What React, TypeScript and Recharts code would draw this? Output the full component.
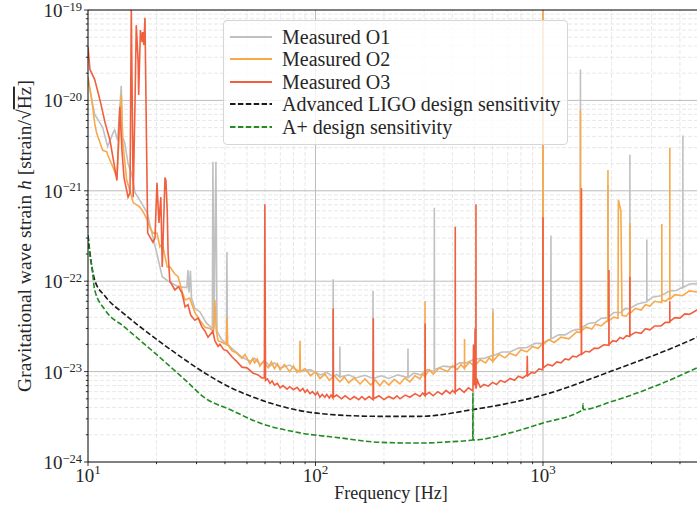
import React from "react";
import { LineChart, Line, XAxis, YAxis, ReferenceLine, Legend } from "recharts";

// [frequency Hz, strain 1/sqrt(Hz)]
const O1: [number, number][] = [
  [10, 1.7e-20], [10.4, 1.0e-20], [10.7, 7.0e-21], [11.3, 5.6e-21], [11.6, 5.0e-21], [12.2, 3.1e-21],
  [12.9, 4.4e-21], [13.1, 4.7e-21], [13.5, 3.6e-21], [14.0, 1.45e-20], [14.2, 3.9e-21], [14.5, 3.4e-21],
  [15.0, 2.0e-21], [15.6, 1.5e-21], [16.1, 9.5e-22], [16.9, 7.9e-22], [18.2, 5.7e-22], [19.1, 3.4e-22],
  [20.1, 2.0e-22], [21.2, 1.12e-22], [22.5, 1.0e-22], [24.9, 8.7e-23], [27.2, 8.5e-23], [27.5, 1.33e-22],
  [27.8, 7.5e-23], [28.2, 1.3e-22], [28.5, 6.5e-23], [29.5, 5.0e-23], [31.0, 4.6e-23], [33.0, 3.5e-23],
  [35.2, 3.0e-23], [35.4, 2.1e-21], [35.8, 3.0e-23], [36.5, 2.1e-21], [36.9, 2.8e-23], [38.5, 2.3e-23],
  [40.6, 2.0e-23], [40.8, 2.1e-22], [41.0, 2.0e-23], [43, 1.8e-23], [47.5, 1.45e-23], [51.5, 1.3e-23],
  [54, 1.4e-23], [57, 1.2e-23], [60, 1.3e-23], [63, 1.15e-23], [66, 1.25e-23], [70, 1.1e-23],
  [77, 1.18e-23], [85, 1.0e-23], [95, 1.05e-23], [105, 9.2e-24], [112, 9.8e-24], [119.3, 8.8e-24],
  [119.6, 1.05e-22], [119.9, 8.8e-24], [124, 9.3e-24], [127.7, 8.7e-24], [128, 1.9e-23], [128.3, 8.7e-24],
  [140, 9.2e-24], [150, 8.5e-24], [165, 9.1e-24], [178.7, 8.4e-24], [179, 7.8e-23], [179.3, 8.4e-24],
  [195, 9.0e-24], [210, 8.4e-24], [230, 9.2e-24], [254.5, 8.6e-24], [255, 1.8e-23], [255.5, 8.6e-24],
  [270, 9.6e-24], [290, 9.2e-24], [310, 1.05e-23], [332.5, 1.0e-23], [333, 6.5e-22], [333.5, 1.05e-23],
  [365, 1.15e-23], [400, 1.12e-23], [430, 1.25e-23], [461, 1.25e-23], [500, 1.38e-23], [550, 1.4e-23],
  [601.5, 1.52e-23], [602, 5.0e-23], [602.5, 1.5e-23], [660, 1.65e-23], [716, 1.65e-23], [780, 1.82e-23],
  [850, 1.85e-23], [920, 2.05e-23], [998, 2.05e-23], [1000, 1.0e-19], [1002, 2.1e-23], [1082, 2.3e-23],
  [1084, 3.2e-22], [1086, 2.3e-23], [1170, 2.55e-23], [1250, 2.55e-23], [1350, 2.85e-23], [1459, 2.95e-23],
  [1461, 2.2e-20], [1463, 3.0e-23], [1580, 3.4e-23], [1700, 3.5e-23], [1810, 3.9e-23], [1928, 3.95e-23],
  [1930, 1.16e-21], [1932, 4.0e-23], [2050, 4.5e-23], [2200, 4.5e-23], [2300, 5.0e-23], [2408, 4.95e-23],
  [2410, 2.5e-21], [2412, 5.0e-23], [2600, 5.6e-23], [2858, 5.9e-23], [2860, 2.9e-22], [2862, 6.0e-23],
  [3050, 6.7e-23], [3300, 6.9e-23], [3600, 7.8e-23], [3850, 7.9e-23], [4118, 8.6e-23], [4120, 4.1e-21],
  [4122, 8.5e-23], [4400, 9.3e-23], [4750, 9.4e-23], [5000, 1.0e-22],
];

const O2: [number, number][] = [
  [10, 1.8e-20], [10.4, 1.0e-20], [10.7, 5.6e-21], [10.9, 4.4e-21], [11.3, 3.4e-21], [11.6, 2.8e-21],
  [12.1, 2.7e-21], [12.2, 2.5e-21], [12.9, 1.8e-21], [13.4, 1.4e-21], [14.0, 1.15e-20], [14.2, 3.6e-21],
  [14.8, 1.3e-21], [15.3, 1.0e-21], [15.8, 7.4e-22], [16.9, 6.6e-22], [17.5, 5.8e-22], [18.2, 4.8e-22],
  [18.7, 3.9e-22], [19.3, 3.4e-22], [20.1, 3.4e-22], [20.7, 2.4e-22], [21.2, 2.6e-22], [22.3, 1.44e-22],
  [22.9, 1.44e-22], [24.1, 1.2e-22], [24.9, 1.12e-22], [26.0, 7.5e-23], [26.7, 6.2e-23], [28.0, 6.5e-23],
  [29.5, 4.5e-23], [31.0, 3.7e-23], [32.7, 3.1e-23], [34.3, 3.0e-23], [35.6, 2.8e-23], [36.1, 6.2e-23],
  [36.6, 2.9e-23], [37.3, 2.2e-23], [39, 2.1e-23], [40.6, 2.0e-23], [40.8, 4.0e-23], [41.1, 2.0e-23],
  [43.0, 1.7e-23], [45, 1.6e-23], [47.5, 1.4e-23], [49, 1.55e-23], [51.5, 1.22e-23], [53, 1.4e-23],
  [54, 1.25e-23], [55.5, 1.38e-23], [57.0, 1.15e-23], [59, 1.3e-23], [62, 1.1e-23], [64, 1.28e-23],
  [66, 1.08e-23], [68, 1.22e-23], [69.9, 1.05e-23], [73, 1.2e-23], [77, 1.0e-23], [80, 1.15e-23],
  [83, 9.8e-24], [85.2, 1.05e-23], [85.5, 2.2e-23], [85.8, 1.0e-23], [90, 1.08e-23], [95, 9.0e-24],
  [100, 1.0e-23], [104.6, 8.4e-24], [110, 9.4e-24], [115, 8.0e-24], [121, 9.0e-24], [128, 7.7e-24],
  [134, 8.7e-24], [140, 7.5e-24], [148, 8.5e-24], [157, 7.3e-24], [165, 8.3e-24], [175, 7.1e-24],
  [183, 8.1e-24], [192, 7.0e-24], [200, 8.0e-24], [210, 7.1e-24], [222, 8.2e-24], [235, 7.3e-24],
  [247, 8.5e-24], [260, 7.7e-24], [274, 9.0e-24], [288, 8.3e-24], [296, 9.4e-24], [302.5, 8.8e-24],
  [303, 6.0e-23], [303.5, 9e-24], [316, 1.05e-23], [329, 9.4e-24], [350, 1.1e-23], [380, 1.0e-23],
  [400, 1.16e-23], [420, 1.05e-23], [436, 1.2e-23], [451.5, 1.08e-23], [452, 2.3e-23], [452.5, 1.1e-23],
  [475, 1.27e-23], [500, 1.15e-23], [530, 1.35e-23], [560, 1.25e-23], [580, 1.42e-23], [601.5, 1.3e-23],
  [602, 4.5e-23], [602.5, 1.3e-23], [640, 1.55e-23], [680, 1.42e-23], [716, 1.6e-23], [760, 1.5e-23],
  [800, 1.75e-23], [850, 1.65e-23], [900, 1.9e-23], [950, 1.8e-23], [998, 2.05e-23], [1000, 1.0e-19],
  [1002, 2.0e-23], [1060, 2.25e-23], [1120, 2.1e-23], [1200, 2.4e-23], [1300, 2.3e-23], [1405, 2.75e-23],
  [1459, 2.7e-23], [1461, 7.8e-21], [1463, 2.8e-23], [1550, 3.1e-23], [1640, 2.95e-23], [1700, 3.35e-23],
  [1800, 3.2e-23], [1928, 3.7e-23], [1930, 1.7e-21], [1932, 3.6e-23], [2050, 4.0e-23], [2137, 3.9e-23],
  [2145, 7.9e-22], [2200, 6e-22], [2225, 4.2e-23], [2320, 4.1e-23], [2408, 4.6e-23], [2410, 4.4e-22],
  [2412, 4.4e-23], [2550, 5.0e-23], [2700, 4.8e-23], [2820, 5.5e-23], [2950, 5.3e-23], [3100, 6.0e-23],
  [3328, 5.8e-23], [3330, 4.3e-22], [3332, 6.2e-23], [3450, 6.0e-23], [3608, 6.6e-23], [3610, 3.0e-21],
  [3612, 6.3e-23], [3800, 7.1e-23], [4100, 6.9e-23], [4400, 7.8e-23], [4750, 7.6e-23], [5000, 8.4e-23],
];

const O3: [number, number][] = [
  [10, 3.9e-20], [10.2, 2.2e-20], [10.7, 1.7e-20], [11.3, 1.0e-20], [11.9, 5.6e-21], [12.5, 3.6e-21],
  [13.1, 1.8e-21], [13.4, 1.3e-21], [13.8, 8.5e-21], [14.1, 2.8e-21], [14.4, 1.4e-21], [15.0, 8.5e-22],
  [15.3, 9.5e-22], [15.5, 1.0e-19], [15.8, 8.5e-22], [16.1, 1.0e-20], [16.3, 6.8e-20], [16.6, 2.8e-20],
  [16.7, 1.15e-20], [17.0, 6.0e-20], [17.3, 4.4e-20], [17.4, 5.7e-20], [17.6, 4.1e-20], [17.8, 8.2e-20],
  [18.1, 2.8e-21], [18.3, 3.4e-22], [19.3, 2.7e-22], [19.7, 3.0e-22], [20.1, 1.23e-21], [20.5, 4.4e-22],
  [20.9, 8.5e-22], [21.2, 1.44e-22], [21.8, 1.4e-21], [22.0, 1.3e-21], [22.3, 6.0e-22], [22.5, 2.0e-22],
  [22.9, 1.0e-22], [24.1, 8.0e-23], [25.0, 8.7e-23], [25.9, 7.4e-23], [26.7, 5.2e-23], [27.5, 5.5e-23],
  [28.3, 4.2e-23], [29.5, 3.7e-23], [30.5, 3.9e-23], [31.7, 3.1e-23], [32.7, 2.8e-23], [33.7, 2.4e-23],
  [35.4, 2.8e-23], [36.1, 2.2e-23], [37.3, 1.9e-23], [38.0, 2.0e-23], [39.5, 1.75e-23], [40.8, 1.7e-23],
  [43.0, 1.45e-23], [45.0, 1.3e-23], [47.5, 1.12e-23], [50.0, 1.1e-23], [53.2, 9.6e-24], [56.0, 9.2e-24],
  [58.1, 8.5e-24], [59.6, 8.5e-24], [59.9, 7.1e-22], [60.3, 8.0e-24], [61.5, 8.3e-24], [63.1, 7.4e-24],
  [64.5, 7.9e-24], [66, 7.1e-24], [68, 7.4e-24], [69.9, 6.6e-24], [72, 7.0e-24], [75, 6.4e-24],
  [77, 6.8e-24], [80, 6.3e-24], [83, 6.7e-24], [85.5, 6.1e-24], [88, 6.5e-24], [90, 5.9e-24],
  [92, 6.3e-24], [94.6, 5.7e-24], [97, 6.0e-24], [100, 5.5e-24], [102, 5.9e-24], [104.6, 5.2e-24],
  [107, 5.6e-24], [110, 5.2e-24], [112, 5.6e-24], [115, 5.1e-24], [117, 5.5e-24], [119.3, 5.1e-24],
  [119.6, 5.0e-23], [119.9, 5.2e-24], [124, 5.5e-24], [130, 5.0e-24], [135, 5.4e-24], [142, 4.9e-24],
  [148, 5.3e-24], [155, 4.9e-24], [160, 5.3e-24], [165, 4.9e-24], [172, 5.3e-24], [179, 4.9e-24],
  [179.5, 3.9e-23], [180, 5.0e-24], [190, 5.4e-24], [200, 4.9e-24], [210, 5.3e-24], [220, 5.0e-24],
  [228, 5.4e-24], [235, 5.0e-24], [248, 5.5e-24], [260, 5.2e-24], [274, 5.7e-24], [288, 5.3e-24],
  [296, 5.8e-24], [303, 5.4e-24], [303.5, 3.4e-23], [304, 5.5e-24], [316, 5.9e-24], [329, 5.4e-24],
  [345, 6.0e-24], [360, 5.6e-24], [375, 6.2e-24], [390, 5.7e-24], [400, 6.2e-24], [411, 5.8e-24],
  [411.5, 4.0e-22], [412, 6.0e-24], [430, 6.5e-24], [450, 5.9e-24], [470, 6.6e-24], [492, 6.1e-24],
  [495, 2.0e-23], [500, 7.0e-24], [503, 3.0e-23], [507, 6.5e-24], [507.5, 7.1e-22], [508, 6.5e-24],
  [515, 8e-24], [530, 6.7e-24], [550, 7.2e-24], [575, 6.9e-24], [600, 7.6e-24], [625, 7.2e-24],
  [650, 8.0e-24], [680, 7.6e-24], [716, 8.4e-24], [750, 8.0e-24], [780, 8.9e-24], [815, 8.5e-24],
  [850, 9.2e-24], [853, 1.5e-23], [856, 9.0e-24], [890, 9.8e-24], [920, 9.6e-24], [960, 1.07e-23],
  [998, 1.05e-23], [1000, 5.1e-22], [1002, 1.1e-23], [1050, 1.2e-23], [1100, 1.16e-23], [1150, 1.28e-23],
  [1200, 1.25e-23], [1250, 1.38e-23], [1300, 1.35e-23], [1350, 1.48e-23], [1405, 1.45e-23], [1474, 1.58e-23],
  [1476, 1.07e-21], [1478, 1.55e-23], [1540, 1.68e-23], [1600, 1.65e-23], [1680, 1.82e-23], [1750, 1.8e-23],
  [1850, 1.98e-23], [1948, 1.95e-23], [1950, 1.33e-22], [1952, 2.0e-23], [2030, 2.2e-23], [2100, 2.15e-23],
  [2180, 2.38e-23], [2250, 2.3e-23], [2330, 2.5e-23], [2408, 2.45e-23], [2410, 1.12e-22], [2412, 2.5e-23],
  [2550, 2.72e-23], [2700, 2.65e-23], [2820, 2.98e-23], [2950, 2.9e-23], [3100, 3.2e-23], [3300, 3.2e-23],
  [3450, 3.5e-23], [3608, 3.5e-23], [3610, 6.0e-23], [3612, 3.6e-23], [3800, 3.95e-23], [4000, 3.9e-23],
  [4200, 4.35e-23], [4400, 4.3e-23], [4750, 4.8e-23], [5000, 5.0e-23],
];

const ALIGO: [number, number][] = [
  [10, 3.2e-22], [10.3, 1.7e-22], [10.7, 1.03e-22], [11.9, 6.8e-23], [14.5, 4.3e-23], [19.7, 2.35e-23],
  [26.7, 1.35e-23], [32.7, 9.6e-24], [42.1, 6.7e-24], [57, 4.9e-24], [85.5, 3.7e-24], [128, 3.3e-24],
  [192, 3.2e-24], [288, 3.2e-24], [492, 3.8e-24], [716, 4.5e-24], [1000, 5.5e-24], [1972, 1.0e-23],
  [4750, 2.4e-23], [5000, 2.55e-23],
];

const APLUS: [number, number][] = [
  [10, 3.2e-22], [10.2, 1.9e-22], [10.4, 1.45e-22], [10.7, 8.0e-23], [11.9, 4.8e-23], [14.5, 3.1e-23],
  [19.7, 1.6e-23], [26.7, 8.1e-24], [32.7, 5.1e-24], [42.1, 3.8e-24], [57, 2.7e-24], [85.5, 2.1e-24],
  [128, 1.85e-24], [192, 1.65e-24], [288, 1.62e-24], [400, 1.68e-24], [491, 1.75e-24], [492, 5.8e-24],
  [493, 1.75e-24], [716, 2.1e-24], [1000, 2.7e-24], [1495, 3.8e-24], [1500, 4.4e-24], [1505, 3.8e-24],
  [1972, 4.6e-24], [4750, 1.1e-23], [5000, 1.17e-23],
];

const SERIES = [
  { name: "Measured O1", data: O1, color: "#c0c0c0", dash: undefined },
  { name: "Measured O2", data: O2, color: "#f7a94c", dash: undefined },
  { name: "Measured O3", data: O3, color: "#f05f3e", dash: undefined },
  { name: "Advanced LIGO design sensitivity", data: ALIGO, color: "#1a1a1a", dash: "5.5 2.4" },
  { name: "A+ design sensitivity", data: APLUS, color: "#228b22", dash: "5.5 2.4" },
];

const X_MAJOR = [10, 100, 1000];
const X_MINOR = [20, 30, 40, 50, 60, 70, 80, 90, 200, 300, 400, 500, 600, 700, 800, 900, 2000, 3000, 4000];
const Y_MAJOR = [1e-24, 1e-23, 1e-22, 1e-21, 1e-20, 1e-19];
const Y_MINOR = Y_MAJOR.slice(0, 5).flatMap((d) => [2, 3, 4, 5, 6, 7, 8, 9].map((m) => m * d));

const FONT = '"Liberation Serif", "DejaVu Serif", serif';
const PLOT_LEFT = 88;
const PLOT_BOTTOM = 462;

const isMajor = (v: number, majors: number[]) => majors.some((m) => Math.abs(v / m - 1) < 1e-6);

const XTick = (props: any) => {
  const { x, payload } = props;
  const v = payload.value;
  const major = isMajor(v, X_MAJOR);
  return (
    <g>
      <line x1={x} x2={x} y1={PLOT_BOTTOM} y2={PLOT_BOTTOM + (major ? 4 : 2.2)} stroke="#000" strokeWidth={0.8} />
      {major && (
        <text x={x} y={482} textAnchor="middle" fontFamily={FONT} fontSize={19} fill="#262626">
          10<tspan dy={-8} fontSize={13}>{Math.round(Math.log10(v))}</tspan>
        </text>
      )}
    </g>
  );
};

const YTick = (props: any) => {
  const { y, payload } = props;
  const v = payload.value;
  const major = isMajor(v, Y_MAJOR);
  const exp = Math.round(Math.log10(v));
  return (
    <g>
      <line x1={PLOT_LEFT - (major ? 4 : 2.2)} x2={PLOT_LEFT} y1={y} y2={y} stroke="#000" strokeWidth={0.8} />
      {major && (
        <text x={PLOT_LEFT - 6} y={y + 7} textAnchor="end" fontFamily={FONT} fontSize={19} fill="#262626">
          10<tspan dy={-6.5} fontSize={12.5}>{"\u2212" + Math.abs(exp)}</tspan>
        </text>
      )}
    </g>
  );
};

const XLabel = () => (
  <text x={391} y={499} textAnchor="middle" fontFamily={FONT} fontSize={18} fill="#262626">
    Frequency [Hz]
  </text>
);

const YLabel = () => (
  <text
    x={0}
    y={0}
    transform="translate(31 236) rotate(-90)"
    textAnchor="middle"
    fontFamily={FONT}
    fontSize={19.5}
    fill="#262626"
  >
    Gravitational wave strain <tspan fontStyle="italic">h</tspan> [strain/{"\u221A"}
    <tspan textDecoration="overline">Hz</tspan>]
  </text>
);

const LegendBox = () => (
  <div
    style={{
      position: "relative",
      width: 345,
      height: 125,
      boxSizing: "border-box",
      border: "1px solid #d6d6d6",
      borderRadius: 4,
      background: "rgba(255,255,255,0.8)",
      fontFamily: FONT,
      fontSize: 20,
      color: "#262626",
    }}
  >
    {SERIES.map((s, i) => (
      <div
        key={s.name}
        style={{
          position: "absolute",
          left: 6,
          top: 4.5 + i * 22.5,
          height: 22,
          lineHeight: "22px",
          display: "flex",
          alignItems: "center",
          whiteSpace: "nowrap",
        }}
      >
        <svg width={42} height={4} style={{ display: "block" }}>
          <line x1={0} x2={42} y1={2} y2={2} stroke={s.color} strokeWidth={1.8} strokeDasharray={s.dash} />
        </svg>
        <span style={{ marginLeft: 10 }}>{s.name}</span>
      </div>
    ))}
  </div>
);

export default function App() {
  return (
    <div style={{ position: "absolute", left: 0, top: 0, width: 697, height: 510, overflow: "hidden", background: "#fff" }}>
      <LineChart width={710} height={510} margin={{ top: 10, right: 8, bottom: 0, left: 8 }}>
        <XAxis
          dataKey="f"
          type="number"
          scale="log"
          domain={[10, 5000]}
          allowDataOverflow
          ticks={[...X_MAJOR, ...X_MINOR]}
          interval={0}
          tick={<XTick />}
          tickLine={false}
          axisLine={{ stroke: "#000", strokeWidth: 1 }}
          height={48}
          label={<XLabel />}
        />
        <YAxis
          dataKey="s"
          type="number"
          scale="log"
          domain={[1e-24, 1e-19]}
          allowDataOverflow
          ticks={[...Y_MAJOR, ...Y_MINOR]}
          interval={0}
          tick={<YTick />}
          tickLine={false}
          axisLine={{ stroke: "#000", strokeWidth: 1 }}
          width={80}
          label={<YLabel />}
        />
        {X_MINOR.map((v) => (
          <ReferenceLine key={"xm" + v} x={v} stroke="#e2e2e2" strokeWidth={0.8} strokeDasharray="4 2" />
        ))}
        {Y_MINOR.map((v) => (
          <ReferenceLine key={"ym" + v} y={v} stroke="#e2e2e2" strokeWidth={0.8} strokeDasharray="4 2" />
        ))}
        {X_MAJOR.slice(1).map((v) => (
          <ReferenceLine key={"xM" + v} x={v} stroke="#bdbdbd" strokeWidth={1} />
        ))}
        {Y_MAJOR.slice(1, 5).map((v) => (
          <ReferenceLine key={"yM" + v} y={v} stroke="#bdbdbd" strokeWidth={1} />
        ))}
        {SERIES.map((s) => (
          <Line
            key={s.name}
            name={s.name}
            data={s.data.map(([f, v]) => ({ f, s: v }))}
            dataKey="s"
            type={s.dash ? "monotone" : "linear"}
            stroke={s.color}
            strokeWidth={1.6}
            strokeDasharray={s.dash}
            dot={false}
            activeDot={false}
            isAnimationActive={false}
          />
        ))}
        <ReferenceLine y={1e-19} stroke="#000" strokeWidth={1.2} />
        <Legend
          content={() => <LegendBox />}
          layout="vertical"
          align="center"
          verticalAlign="middle"
          wrapperStyle={{ left: 223, top: 20, width: 345, height: 125 }}
        />
      </LineChart>
    </div>
  );
}
